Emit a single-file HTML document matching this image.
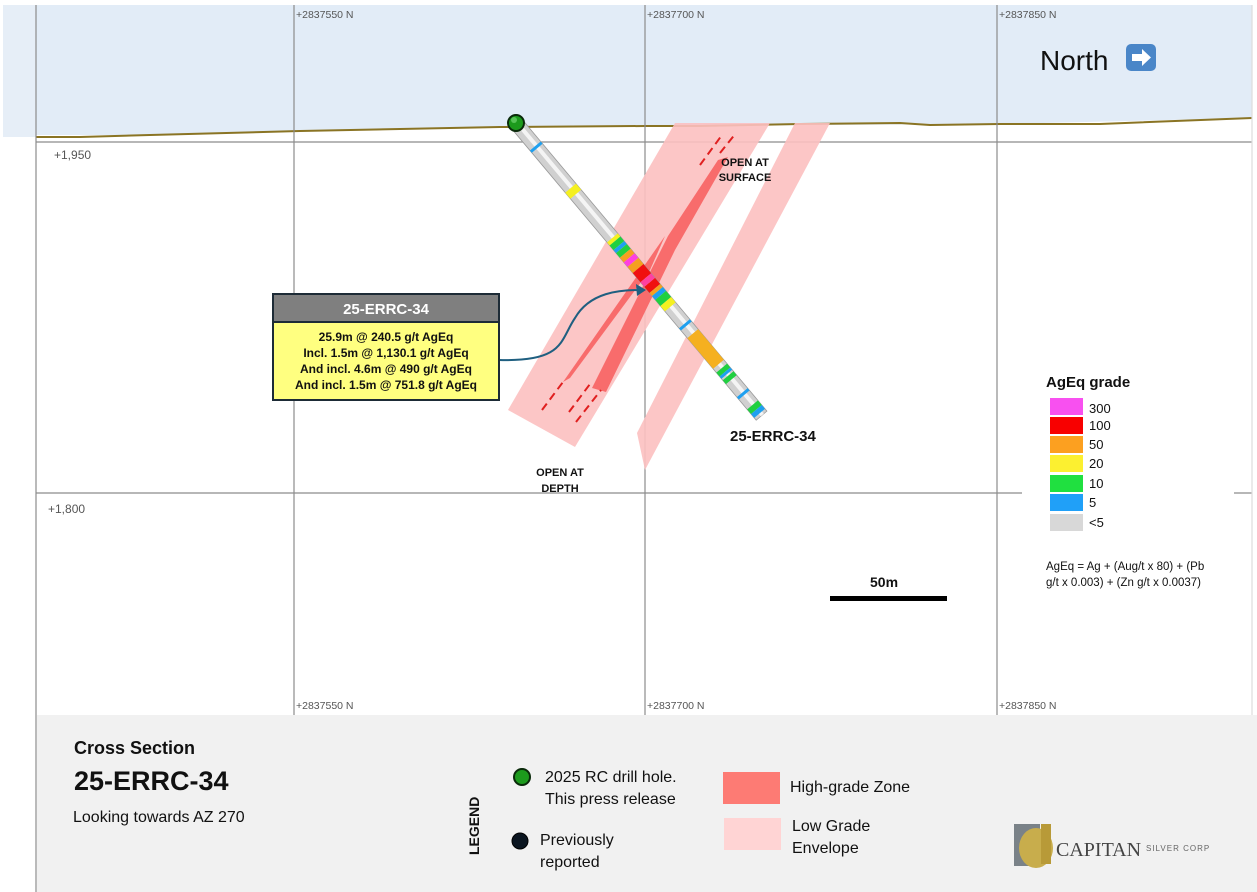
<!DOCTYPE html>
<html><head><meta charset="utf-8"><style>
body{margin:0;background:#fff;}
svg{display:block;font-family:"Liberation Sans",sans-serif;}
</style></head><body>
<svg width="1257" height="892" viewBox="0 0 1257 892" xmlns="http://www.w3.org/2000/svg">
<rect width="1257" height="892" fill="#fff"/>
<rect x="3" y="5" width="33" height="132" fill="#e6eef7"/>
<rect x="36" y="5" width="1216" height="130" fill="#e2ecf7"/>
<polygon points="36,137 300,131 500,127 645,126 1000,124 1252,118 1252,135 36,140" fill="#fff"/>
<polyline points="36,137 80,137 150,135 300,131 400,129 500,127 645,126 700,126 800,124 900,123 930,125 1000,124 1100,124 1252,118" fill="none" stroke="#8a7424" stroke-width="2"/>
<rect x="1022" y="370" width="225" height="230" fill="#fff"/>
<g stroke="#8c8c8c" stroke-width="1.2">
<line x1="36" y1="142" x2="1252" y2="142"/>
<line x1="36" y1="493" x2="1022" y2="493"/>
<line x1="1234" y1="493" x2="1252" y2="493"/>
<line x1="294" y1="5" x2="294" y2="715"/>
<line x1="645" y1="5" x2="645" y2="715"/>
<line x1="997" y1="5" x2="997" y2="715"/>
<line x1="36" y1="5" x2="36" y2="892"/>
<line x1="1252" y1="5" x2="1252" y2="715" stroke="#ddd"/>
</g>
<g font-size="10.5" fill="#555">
<text x="296" y="18">+2837550 N</text><text x="647" y="18">+2837700 N</text><text x="999" y="18">+2837850 N</text>
<text x="296" y="709">+2837550 N</text><text x="647" y="709">+2837700 N</text><text x="999" y="709">+2837850 N</text>
<text x="54" y="159" font-size="12">+1,950</text><text x="48" y="513" font-size="12">+1,800</text>
</g>
<text x="1040" y="70" font-size="28" fill="#111">North</text>
<rect x="1126" y="44" width="30" height="27" rx="5" fill="#4a86c8"/>
<polygon points="1132,54 1142,54 1142,49 1151,57.5 1142,66 1142,61 1132,61" fill="#fff"/>
<polygon points="508,410 675,123 770,123 575,447" fill="#fcc0c0" opacity="0.9"/>
<polygon points="637,433 795,123 830,123 645,470" fill="#fcc0c0" opacity="0.9"/>
<polygon points="563,382 665,236 650,270 570,378" fill="#f86c6c"/>
<polygon points="592,388 668,236 718,160 728,157 675,250 606,392" fill="#f86c6c"/>
<g stroke="#e02020" stroke-width="2" stroke-dasharray="8,5">
<line x1="542" y1="410" x2="563" y2="382"/>
<line x1="569" y1="412" x2="590" y2="384"/>
<line x1="576" y1="422" x2="601" y2="390"/>
<line x1="700" y1="165" x2="722" y2="135"/>
<line x1="720" y1="153" x2="736" y2="133"/>
</g>
<g transform="translate(516,123) rotate(50.0)">
<rect x="0" y="-7" width="382" height="14" fill="#d0d0d0" stroke="#999" stroke-width="0.8"/>
<rect x="0" y="-3" width="382" height="4" fill="#f4f4f4"/>
<g>
<rect x="30" y="-7" width="3" height="14" fill="#1ea0f0"/>
<rect x="85" y="-7" width="8" height="14" fill="#f5f020"/>
<rect x="150" y="-7" width="4" height="14" fill="#f5f020"/>
<rect x="154" y="-7" width="6" height="14" fill="#20d040"/>
<rect x="160" y="-7" width="4" height="14" fill="#1ea0f0"/>
<rect x="164" y="-7" width="6" height="14" fill="#20d040"/>
<rect x="170" y="-7" width="6" height="14" fill="#f5a020"/>
<rect x="176" y="-7" width="6" height="14" fill="#ff40e0"/>
<rect x="182" y="-7" width="8" height="14" fill="#f5a020"/>
<rect x="190" y="-7" width="12" height="14" fill="#f01010"/>
<rect x="202" y="-7" width="6" height="14" fill="#ff40a0"/>
<rect x="208" y="-7" width="8" height="14" fill="#f01010"/>
<rect x="216" y="-7" width="4" height="14" fill="#f5a020"/>
<rect x="220" y="-7" width="5" height="14" fill="#1ea0f0"/>
<rect x="225" y="-7" width="8" height="14" fill="#20d040"/>
<rect x="233" y="-7" width="7" height="14" fill="#f5f020"/>
<rect x="262" y="-7" width="3" height="14" fill="#1ea0f0"/>
<rect x="275" y="-7" width="40" height="14" fill="#f5b020"/>
<rect x="320" y="-7" width="5" height="14" fill="#20d040"/>
<rect x="325" y="-7" width="3" height="14" fill="#1ea0f0"/>
<rect x="330" y="-7" width="5" height="14" fill="#20d040"/>
<rect x="352" y="-7" width="3" height="14" fill="#1ea0f0"/>
<rect x="368" y="-7" width="6" height="14" fill="#20d040"/>
<rect x="374" y="-7" width="5" height="14" fill="#1ea0f0"/>
</g></g>
<circle cx="516" cy="123" r="8" fill="#1c9a1c" stroke="#0a2a0a" stroke-width="2"/>
<circle cx="514" cy="120" r="3" fill="#7ee07e" opacity="0.6"/>
<text x="730" y="441" font-size="15" font-weight="bold" fill="#111">25-ERRC-34</text>
<g font-size="11" font-weight="bold" fill="#111" text-anchor="middle">
<text x="745" y="166">OPEN AT</text><text x="745" y="181">SURFACE</text>
<text x="560" y="476">OPEN AT</text><text x="560" y="492">DEPTH</text>
</g>
<path d="M499,360 C565,362 560,340 575,318 C590,292 620,290 640,290" fill="none" stroke="#1f5f80" stroke-width="2"/>
<polygon points="646,290 636,284 637,296" fill="#1f5f80"/>
<rect x="273" y="294" width="226" height="28" fill="#7f7f7f" stroke="#1d2b36" stroke-width="2"/>
<rect x="273" y="322" width="226" height="78" fill="#ffff80" stroke="#1d2b36" stroke-width="2"/>
<text x="386" y="314" font-size="15" font-weight="bold" fill="#fff" text-anchor="middle">25-ERRC-34</text>
<g font-size="12" font-weight="bold" fill="#111" text-anchor="middle">
<text x="386" y="341">25.9m @ 240.5 g/t AgEq</text>
<text x="386" y="357">Incl. 1.5m @ 1,130.1 g/t AgEq</text>
<text x="386" y="373">And incl. 4.6m @ 490 g/t AgEq</text>
<text x="386" y="389">And incl. 1.5m @ 751.8 g/t AgEq</text>
</g>
<text x="1046" y="387" font-size="15" font-weight="bold" fill="#111">AgEq grade</text>
<g font-size="13" fill="#111">
<rect x="1050" y="398" width="33" height="17" fill="#f850f0"/><text x="1089" y="413">300</text>
<rect x="1050" y="417" width="33" height="17" fill="#f80000"/><text x="1089" y="430">100</text>
<rect x="1050" y="436" width="33" height="17" fill="#fca020"/><text x="1089" y="449">50</text>
<rect x="1050" y="455" width="33" height="17" fill="#fcf030"/><text x="1089" y="468">20</text>
<rect x="1050" y="475" width="33" height="17" fill="#20e040"/><text x="1089" y="488">10</text>
<rect x="1050" y="494" width="33" height="17" fill="#20a0f8"/><text x="1089" y="507">5</text>
<rect x="1050" y="514" width="33" height="17" fill="#d8d8d8"/><text x="1089" y="527">&lt;5</text>
</g>
<text x="1046" y="570" font-size="11.5" fill="#111">AgEq = Ag + (Aug/t x 80) + (Pb</text>
<text x="1046" y="586" font-size="11.5" fill="#111">g/t x 0.003) + (Zn g/t x 0.0037)</text>
<rect x="830" y="596" width="117" height="5" fill="#000"/>
<text x="870" y="587" font-size="14" font-weight="bold" fill="#111">50m</text>
<rect x="37" y="715" width="1220" height="177" fill="#f1f1f1"/>
<text x="74" y="754" font-size="18" font-weight="bold" fill="#111">Cross Section</text>
<text x="74" y="790" font-size="27" font-weight="bold" fill="#111">25-ERRC-34</text>
<text x="73" y="822" font-size="16" fill="#111">Looking towards AZ 270</text>
<text x="479" y="855" font-size="14" font-weight="bold" fill="#111" transform="rotate(-90 479 855)">LEGEND</text>
<circle cx="522" cy="777" r="8" fill="#1c9a1c" stroke="#0a2a0a" stroke-width="2"/>
<text x="545" y="782" font-size="16" fill="#111">2025 RC drill hole.</text>
<text x="545" y="804" font-size="16" fill="#111">This press release</text>
<circle cx="520" cy="841" r="8" fill="#0b1520" stroke="#000" stroke-width="1"/>
<text x="540" y="845" font-size="16" fill="#111">Previously</text>
<text x="540" y="867" font-size="16" fill="#111">reported</text>
<rect x="723" y="772" width="57" height="32" fill="#fd7b74"/>
<text x="790" y="792" font-size="16" fill="#111">High-grade Zone</text>
<rect x="724" y="818" width="57" height="32" fill="#ffd4d4"/>
<text x="792" y="831" font-size="16" fill="#111">Low Grade</text>
<text x="792" y="853" font-size="16" fill="#111">Envelope</text>
<rect x="1014" y="824" width="26" height="42" fill="#7a8288"/>
<ellipse cx="1036" cy="848" rx="17" ry="20" fill="#c8ad4c"/>
<rect x="1041" y="824" width="10" height="40" fill="#b89a38"/>
<text x="1056" y="856" font-size="20" font-family="Liberation Serif,serif" fill="#444">CAPITAN</text>
<text x="1146" y="851" font-size="8" fill="#666" letter-spacing="1">SILVER CORP</text>
</svg>
</body></html>
